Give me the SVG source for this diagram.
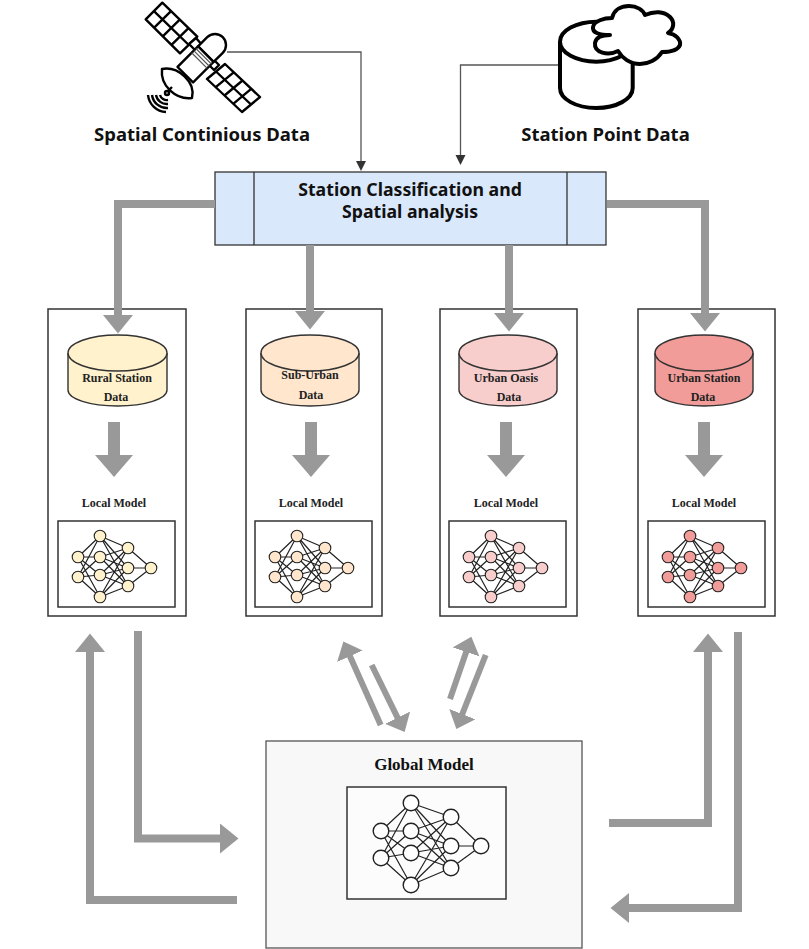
<svg xmlns="http://www.w3.org/2000/svg" width="809" height="949" viewBox="0 0 809 949">
<style>
text{font-family:"Noto Sans","Liberation Sans",Arial,sans-serif;font-weight:700;fill:#111;text-anchor:middle}
.serif{font-family:"Liberation Serif","Times New Roman",serif;font-size:12px;fill:#222}
.title{font-size:18.5px}
.box{fill:#fff;stroke:#333;stroke-width:1.5}
.thick{fill:none;stroke:#999;stroke-width:8}
.inner{fill:none;stroke:#999;stroke-width:12}
.diag{fill:none;stroke:#999;stroke-width:6}
.thin{fill:none;stroke:#555;stroke-width:1.3}
.cyl{stroke:#333;stroke-width:1.4}
.edge{stroke:#222;stroke-width:1.2;fill:none}
.icon{fill:#fff;stroke:#000;stroke-linejoin:round}
</style>
<defs>
<marker id="hThick" markerUnits="userSpaceOnUse" markerWidth="20" markerHeight="32" refX="1" refY="15" orient="auto"><path d="M0 0L18.500 15L0 30Z" fill="#999"/></marker>
<marker id="hInner" markerUnits="userSpaceOnUse" markerWidth="24" markerHeight="40" refX="1" refY="19" orient="auto"><path d="M0 0L22 19L0 38Z" fill="#999"/></marker>
<marker id="hDiag" markerUnits="userSpaceOnUse" markerWidth="18" markerHeight="30" refX="1" refY="14" orient="auto"><path d="M0 0L16 14L0 28Z" fill="#999"/></marker>
<marker id="hThin" markerUnits="userSpaceOnUse" markerWidth="11" markerHeight="12" refX="1" refY="5" orient="auto"><path d="M0 0L10 5L0 10Z" fill="#333"/></marker>
<g id="localEdges" class="edge">
<path d="M78 557L100 536M78 557L100 557M78 557L100 575M78 557L100 597M78 577L100 536M78 577L100 557M78 577L100 575M78 577L100 597"/>
<path d="M100 536L128 548M100 536L128 568M100 536L128 586M100 557L128 548M100 557L128 568M100 557L128 586M100 575L128 548M100 575L128 568M100 575L128 586M100 597L128 548M100 597L128 568M100 597L128 586"/>
<path d="M128 548L151 568M128 568L151 568M128 586L151 568"/>
</g>
<g id="localNodes" stroke="#222" stroke-width="1.1" fill="currentColor">
<circle cx="78" cy="557" r="5.800"/><circle cx="78" cy="577" r="5.800"/>
<circle cx="100" cy="536" r="5.800"/><circle cx="100" cy="557" r="5.800"/><circle cx="100" cy="575" r="5.800"/><circle cx="100" cy="597" r="5.800"/>
<circle cx="128" cy="548" r="5.800"/><circle cx="128" cy="568" r="5.800"/><circle cx="128" cy="586" r="5.800"/>
<circle cx="151" cy="568" r="5.800"/>
</g>
</defs>
<rect width="809" height="949" fill="#fff"/>

<g id="satellite">
<g class="icon" stroke-width="2.4">
<path d="M162.300 2.700L145.700 19.300L180 53.300L197.300 36.700Z"/>
<path d="M153.700 10.900L188.800 45M171 11.200L154.200 27.700M179.700 19.700L163 36.200M188.500 28.200L171.500 44.800" fill="none"/>
<path d="M225 64L207 79L242 112L260 97Z"/>
<path d="M216 71.500L251 104.500M233.700 72.300L215.700 87.200M242.500 80.500L224.500 95.500M251.200 88.800L233.200 103.800" fill="none"/>
<path d="M189 44L197 52L203 46L196 38Z"/>
<path d="M207 63L214 70L219 65L212 58Z"/>
<g transform="translate(215 45) rotate(45)">
<path d="M-11 0A11 11 0 0 1 11 0V13H-11Z"/>
<path d="M-11 13H11V42H-11Z"/>
<path d="M-11 16H11M-11 19H11M-11 22H11" stroke-width="1.2" stroke="#555" fill="none"/>
</g>
<path d="M162 69C178 66 196 82 192 98C176 100 160 86 162 69Z"/>
<path d="M172 87L167 92" fill="none"/>
<circle cx="167" cy="93" r="2"/>
</g>
<path d="M160 95A7 7 0 0 0 168 100M156 95A11 11 0 0 0 168 104M152 95A15 15 0 0 0 168 108M148 95A19 19 0 0 0 166 112" fill="none" stroke="#000" stroke-width="2.400"/>
</g>

<g id="database">
<path class="icon" stroke-width="4" d="M560 41.700V88C560 99 576 108 596.300 108S632.700 99 632.700 88V41.700"/>
<ellipse class="icon" stroke-width="4" cx="596.300" cy="41.700" rx="36.300" ry="20"/>
<path class="icon" stroke-width="4" d="M618 51C608 56 594 53 595 43C596 37 603 35 610 35C600 35 592 33 593 27C594 21 604 18 612 18C614 9 622 6 629 6C637 6 643 10 645 15C654 11 664 11 670 17C675 22 674 29 668 33C676 34 681 40 680 45C678 50 670 52 662 52C657 60 648 64 640 64C630 64 622 58 618 51Z"/>
</g>

<g id="labels">
<text class="title" x="202" y="141">Spatial Continious Data</text>
<text class="title" x="605.500" y="141">Station Point Data</text>
</g>

<g id="classification">
<rect x="215" y="172" width="391" height="73" fill="#dae8fc" stroke="#333" stroke-width="1.3"/>
<path d="M254 172V245M567 172V245" stroke="#333" stroke-width="1.3"/>
<text x="410" y="195.500" font-size="17.700">Station Classification and</text>
<text x="410" y="217.500" font-size="17.700">Spatial analysis</text>
</g>

<g id="rural">
<rect class="box" x="48" y="309" width="138" height="307"/>
<path class="cyl" fill="#fff2cc" d="M68 353V390C68 399 90 406 117.500 406S167 399 167 390V353"/>
<ellipse class="cyl" fill="#fff2cc" cx="117.500" cy="353" rx="49.500" ry="18"/>
<text class="serif" x="117" y="382">Rural Station</text>
<text class="serif" x="116" y="401">Data</text>
<text class="serif" x="114" y="507">Local Model</text>
<rect class="box" x="58" y="521" width="117" height="86"/>
<use href="#localEdges"/><use href="#localNodes" color="#fff2cc"/>
</g>

<g id="suburban">
<rect class="box" x="246" y="309" width="136" height="307"/>
<path class="cyl" fill="#ffe6cc" d="M261 353V390C261 399 283 406 310 406S359 399 359 390V353"/>
<ellipse class="cyl" fill="#ffe6cc" cx="310" cy="353" rx="49" ry="18"/>
<text class="serif" x="310" y="379">Sub-Urban</text>
<text class="serif" x="311" y="399">Data</text>
<text class="serif" x="311" y="507">Local Model</text>
<rect class="box" x="255" y="521" width="117" height="86"/>
<use href="#localEdges" x="197"/><use href="#localNodes" x="197" color="#ffe6cc"/>
</g>

<g id="oasis">
<rect class="box" x="440" y="309" width="137" height="307"/>
<path class="cyl" fill="#f8cecc" d="M459 353V390C459 399 481 406 508 406S557 399 557 390V353"/>
<ellipse class="cyl" fill="#f8cecc" cx="508" cy="353" rx="49" ry="18"/>
<text class="serif" x="506" y="382">Urban Oasis</text>
<text class="serif" x="509" y="401">Data</text>
<text class="serif" x="506" y="507">Local Model</text>
<rect class="box" x="449" y="521" width="117" height="86"/>
<use href="#localEdges" x="391"/><use href="#localNodes" x="391" color="#f8cecc"/>
</g>

<g id="urban">
<rect class="box" x="638" y="309" width="137" height="307"/>
<path class="cyl" fill="#f19c99" d="M655 353V390C655 399 677 406 704 406S753 399 753 390V353"/>
<ellipse class="cyl" fill="#f19c99" cx="704" cy="353" rx="49" ry="18"/>
<text class="serif" x="704" y="382">Urban Station</text>
<text class="serif" x="703" y="401">Data</text>
<text class="serif" x="704" y="507">Local Model</text>
<rect class="box" x="648" y="521" width="117" height="86"/>
<use href="#localEdges" x="590"/><use href="#localNodes" x="590" color="#f19c99"/>
</g>

<g id="global">
<rect x="266" y="741" width="316" height="207" fill="#f8f8f8" stroke="#555" stroke-width="1.3"/>
<text x="424" y="770" font-size="17" style="font-family:'Liberation Serif',serif">Global Model</text>
<rect x="347" y="787" width="159" height="112" fill="#fcfcfc" stroke="#333" stroke-width="1.5"/>
<path class="edge" d="M381 831L411 803M381 831L411 831M381 831L411 853M381 831L411 885M381 858L411 803M381 858L411 831M381 858L411 853M381 858L411 885M411 803L451 817M411 803L451 846M411 803L451 868M411 831L451 817M411 831L451 846M411 831L451 868M411 853L451 817M411 853L451 846M411 853L451 868M411 885L451 817M411 885L451 846M411 885L451 868M451 817L481 846M451 846L481 846M451 868L481 846"/>
<g fill="#fff" stroke="#222" stroke-width="1.4">
<circle cx="381" cy="831" r="7.800"/><circle cx="381" cy="858" r="7.800"/>
<circle cx="411" cy="803" r="7.800"/><circle cx="411" cy="831" r="7.800"/><circle cx="411" cy="853" r="7.800"/><circle cx="411" cy="885" r="7.800"/>
<circle cx="451" cy="817" r="7.800"/><circle cx="451" cy="846" r="7.800"/><circle cx="451" cy="868" r="7.800"/>
<circle cx="481" cy="846" r="7.800"/>
</g>
</g>

<g id="connectors">
<path class="thin" d="M227 52H361V162" marker-end="url(#hThin)"/>
<path class="thin" d="M558 65H460.500V156" marker-end="url(#hThin)"/>
<path class="thick" d="M215 204H118V316" marker-end="url(#hThick)"/>
<path class="thick" d="M310 245V312" marker-end="url(#hThick)"/>
<path class="thick" d="M509 245V314" marker-end="url(#hThick)"/>
<path class="thick" d="M607 204H705V314" marker-end="url(#hThick)"/>
<path class="inner" d="M114 422V456" marker-end="url(#hInner)"/>
<path class="inner" d="M311 422V456" marker-end="url(#hInner)"/>
<path class="inner" d="M506 422V456" marker-end="url(#hInner)"/>
<path class="inner" d="M704 422V456" marker-end="url(#hInner)"/>
<path class="thick" d="M138 631V838.500H221" marker-end="url(#hThick)"/>
<path class="thick" d="M237 900H90V651" marker-end="url(#hThick)"/>
<path class="thick" d="M609 823H708V651" marker-end="url(#hThick)"/>
<path class="thick" d="M738 632V908H628" marker-end="url(#hThick)"/>
<path class="diag" d="M380.700 725L349.500 655.300" marker-end="url(#hDiag)"/>
<path class="diag" d="M371.700 665L398 718.600" marker-end="url(#hDiag)"/>
<path class="diag" d="M450 699L466.500 651" marker-end="url(#hDiag)"/>
<path class="diag" d="M485.700 655L461.900 715" marker-end="url(#hDiag)"/>
</g>
</svg>
